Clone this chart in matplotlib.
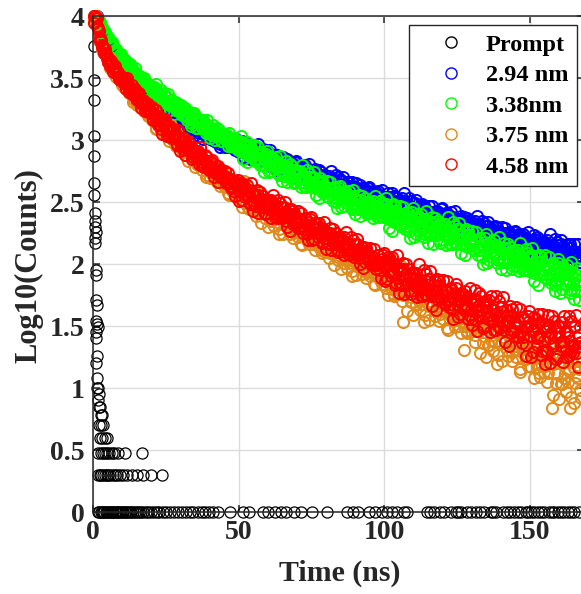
"""Fluorescence decay curves (log10 counts) for four particle sizes plus the prompt."""

import matplotlib

matplotlib.use("Agg")
import matplotlib.pyplot as plt
import numpy as np

# the histograms are read at two interleaved channel sets (ns)
time_a = np.arange(0.5, 168.0, 0.5)
time_b = time_a - 0.25

# log10(counts), in hundredths; "_a" at time_a, "_b" at time_b
decay_294nm_a = [
    399, 399, 398, 394, 392, 387, 385, 381, 381, 378,
    375, 376, 372, 371, 366, 366, 367, 361, 360, 360,
    360, 355, 351, 354, 352, 354, 347, 349, 345, 345,
    342, 344, 345, 340, 338, 340, 334, 336, 338, 333,
    335, 328, 332, 333, 328, 329, 330, 324, 327, 320,
    325, 320, 325, 322, 325, 318, 319, 315, 320, 318,
    315, 319, 315, 316, 310, 314, 317, 309, 310, 313,
    312, 308, 303, 308, 307, 310, 304, 307, 303, 304,
    301, 304, 306, 301, 299, 303, 297, 301, 302, 298,
    300, 294, 298, 300, 296, 297, 298, 293, 296, 290,
    296, 290, 296, 292, 298, 290, 292, 285, 294, 291,
    288, 293, 289, 290, 283, 288, 293, 284, 285, 290,
    289, 284, 278, 286, 284, 288, 279, 284, 279, 280,
    277, 282, 285, 278, 276, 282, 273, 279, 282, 275,
    279, 271, 277, 279, 274, 274, 277, 270, 275, 265,
    274, 268, 274, 270, 276, 268, 270, 263, 272, 269,
    266, 271, 266, 269, 261, 266, 272, 262, 263, 268,
    267, 262, 256, 264, 262, 266, 258, 263, 258, 259,
    256, 261, 264, 257, 255, 261, 252, 258, 261, 254,
    258, 250, 256, 258, 253, 253, 256, 249, 254, 244,
    253, 247, 254, 250, 257, 247, 250, 243, 253, 251,
    247, 253, 247, 250, 242, 247, 253, 243, 244, 249,
    249, 243, 236, 245, 243, 248, 239, 245, 239, 240,
    237, 242, 247, 239, 236, 243, 233, 239, 244, 236,
    240, 231, 238, 240, 234, 235, 238, 230, 236, 225,
    235, 229, 236, 232, 238, 229, 232, 225, 235, 233,
    229, 235, 229, 232, 224, 229, 235, 225, 226, 231,
    231, 225, 218, 228, 225, 231, 221, 227, 222, 223,
    220, 225, 229, 221, 219, 225, 216, 222, 226, 218,
    222, 213, 220, 223, 217, 218, 221, 213, 219, 208,
    218, 211, 220, 215, 222, 212, 215, 207, 218, 216,
    211, 219, 213, 215, 207, 213, 220, 208, 210, 215,
    216, 209, 202, 212, 210, 216, 206, 213, 207, 208,
    204, 210, 216, 207, 204,
]
decay_294nm_b = [
    397, 400, 400, 394, 393, 390, 388, 385, 381, 379,
    378, 375, 371, 374, 368, 368, 363, 363, 363, 358,
    358, 361, 354, 354, 355, 347, 351, 351, 346, 346,
    348, 341, 343, 340, 338, 341, 338, 332, 337, 338,
    329, 333, 334, 332, 327, 333, 328, 324, 332, 324,
    322, 325, 327, 317, 322, 319, 323, 321, 315, 318,
    319, 315, 311, 320, 312, 314, 310, 312, 315, 308,
    309, 314, 306, 307, 310, 301, 308, 309, 303, 305,
    307, 300, 303, 301, 298, 303, 301, 294, 301, 304,
    294, 298, 301, 299, 295, 300, 296, 292, 301, 294,
    291, 296, 299, 286, 294, 291, 296, 294, 286, 291,
    293, 289, 283, 297, 286, 290, 283, 287, 292, 283,
    284, 292, 282, 284, 288, 276, 285, 287, 280, 282,
    286, 277, 281, 278, 274, 282, 279, 270, 280, 283,
    270, 276, 280, 277, 272, 280, 274, 268, 281, 271,
    269, 274, 277, 264, 272, 269, 274, 272, 264, 269,
    271, 267, 261, 275, 264, 268, 261, 265, 270, 261,
    262, 270, 260, 262, 266, 254, 263, 266, 258, 261,
    265, 256, 260, 256, 253, 261, 258, 249, 259, 262,
    249, 255, 259, 256, 251, 259, 253, 247, 260, 250,
    248, 254, 257, 243, 252, 248, 255, 253, 244, 250,
    252, 247, 241, 257, 244, 249, 242, 246, 251, 241,
    243, 252, 241, 243, 247, 234, 245, 247, 239, 242,
    247, 236, 242, 238, 234, 243, 240, 229, 241, 245,
    230, 237, 241, 238, 233, 242, 234, 229, 243, 232,
    230, 236, 239, 225, 234, 230, 237, 235, 226, 232,
    234, 229, 223, 239, 226, 231, 224, 228, 233, 223,
    225, 234, 223, 225, 230, 217, 227, 230, 222, 225,
    230, 219, 224, 220, 216, 226, 222, 211, 223, 227,
    212, 220, 224, 221, 215, 224, 217, 212, 226, 215,
    212, 219, 223, 207, 217, 213, 220, 218, 209, 215,
    218, 212, 206, 224, 210, 215, 209, 211, 218, 207,
    209, 219, 207, 210, 215, 200, 213, 216, 207, 210,
    216, 204, 210, 206, 202,
]

decay_338nm_a = [
    400, 400, 395, 396, 393, 391, 387, 387, 383, 382,
    379, 379, 379, 375, 372, 372, 367, 368, 368, 364,
    365, 359, 362, 362, 358, 357, 358, 352, 354, 348,
    352, 348, 350, 347, 350, 344, 345, 340, 344, 342,
    339, 343, 338, 339, 333, 336, 340, 331, 332, 335,
    335, 329, 324, 330, 328, 331, 324, 328, 323, 323,
    320, 324, 326, 320, 318, 322, 314, 318, 321, 315,
    317, 310, 315, 316, 311, 312, 314, 307, 311, 302,
    309, 304, 309, 306, 310, 303, 304, 299, 305, 303,
    300, 304, 300, 301, 295, 298, 302, 294, 295, 298,
    299, 292, 285, 295, 292, 298, 287, 293, 287, 288,
    284, 290, 294, 285, 282, 289, 279, 285, 289, 281,
    285, 275, 282, 285, 278, 279, 282, 273, 280, 267,
    278, 271, 279, 274, 281, 270, 273, 265, 276, 273,
    268, 275, 269, 272, 263, 269, 276, 263, 265, 270,
    270, 263, 256, 266, 263, 269, 258, 264, 258, 259,
    255, 261, 266, 257, 254, 261, 250, 257, 261, 253,
    257, 247, 254, 258, 251, 252, 255, 246, 253, 240,
    251, 244, 252, 248, 255, 244, 248, 240, 250, 248,
    243, 251, 244, 247, 238, 245, 251, 239, 241, 247,
    248, 239, 229, 243, 240, 248, 234, 243, 235, 237,
    232, 240, 246, 235, 231, 241, 227, 236, 242, 231,
    237, 224, 234, 238, 230, 231, 236, 224, 233, 217,
    231, 223, 234, 227, 237, 223, 228, 217, 232, 228,
    223, 232, 224, 228, 216, 225, 234, 218, 221, 228,
    228, 219, 209, 223, 220, 228, 214, 223, 215, 217,
    212, 219, 226, 214, 211, 220, 206, 215, 221, 210,
    216, 203, 213, 217, 209, 210, 215, 203, 212, 196,
    210, 202, 213, 206, 216, 202, 207, 196, 211, 207,
    202, 211, 203, 207, 195, 203, 212, 196, 199, 206,
    207, 196, 186, 202, 198, 207, 191, 202, 192, 195,
    189, 198, 206, 192, 188, 199, 183, 193, 201, 188,
    195, 180, 191, 196, 186, 188, 194, 179, 191, 172,
    189, 178, 191, 184, 195,
]
decay_338nm_b = [
    398, 400, 398, 396, 395, 389, 390, 388, 384, 383,
    383, 377, 378, 375, 372, 373, 370, 365, 368, 369,
    361, 363, 364, 362, 358, 361, 356, 352, 358, 352,
    349, 352, 352, 344, 348, 345, 347, 345, 340, 342,
    343, 339, 334, 345, 335, 338, 332, 334, 338, 330,
    331, 337, 328, 329, 332, 321, 329, 330, 323, 325,
    328, 320, 323, 319, 316, 323, 319, 311, 319, 322,
    310, 315, 317, 315, 310, 316, 311, 306, 316, 308,
    305, 310, 312, 300, 307, 304, 308, 306, 299, 303,
    304, 300, 295, 306, 297, 300, 294, 297, 300, 292,
    293, 303, 290, 292, 297, 282, 294, 296, 287, 290,
    296, 283, 289, 284, 280, 290, 286, 274, 287, 291,
    274, 282, 286, 283, 277, 286, 278, 272, 287, 275,
    272, 279, 283, 266, 275, 272, 279, 276, 266, 272,
    275, 269, 262, 280, 266, 270, 262, 267, 273, 262,
    264, 274, 261, 263, 268, 253, 265, 267, 258, 261,
    267, 254, 260, 256, 251, 262, 257, 245, 259, 263,
    246, 254, 259, 255, 249, 259, 251, 244, 260, 248,
    245, 252, 256, 239, 249, 246, 253, 250, 241, 247,
    250, 244, 237, 255, 241, 246, 238, 243, 249, 238,
    240, 253, 236, 240, 247, 227, 243, 247, 235, 240,
    247, 231, 239, 233, 228, 242, 236, 221, 239, 245,
    222, 233, 240, 236, 227, 240, 230, 222, 243, 227,
    223, 233, 238, 216, 230, 225, 235, 231, 219, 227,
    231, 224, 215, 238, 220, 227, 216, 223, 231, 216,
    220, 233, 216, 220, 227, 207, 223, 227, 215, 220,
    227, 211, 219, 213, 207, 221, 215, 200, 218, 224,
    201, 212, 218, 214, 206, 219, 209, 201, 222, 206,
    202, 212, 217, 195, 209, 204, 214, 210, 198, 206,
    210, 203, 194, 217, 198, 205, 195, 201, 209, 194,
    197, 213, 193, 198, 206, 183, 202, 206, 192, 198,
    207, 188, 198, 191, 185, 201, 195, 178, 197, 204,
    177, 190, 198, 193, 183, 199, 187, 177, 202, 184,
    179, 191, 197, 171, 187,
]

decay_375nm_a = [
    398, 400, 393, 385, 379, 377, 371, 370, 369, 364,
    364, 358, 359, 359, 355, 354, 354, 349, 351, 344,
    347, 342, 346, 342, 344, 337, 338, 332, 337, 334,
    330, 333, 329, 329, 323, 326, 328, 321, 321, 322,
    323, 316, 310, 317, 314, 318, 308, 313, 307, 307,
    303, 307, 310, 303, 300, 305, 295, 300, 303, 295,
    298, 290, 294, 296, 290, 290, 292, 284, 289, 278,
    286, 280, 286, 281, 286, 278, 279, 272, 280, 277,
    273, 278, 273, 274, 266, 271, 275, 265, 266, 270,
    269, 263, 257, 264, 262, 266, 257, 261, 256, 256,
    251, 258, 263, 252, 249, 257, 244, 252, 257, 246,
    252, 239, 248, 252, 243, 244, 249, 237, 245, 230,
    243, 235, 244, 238, 247, 234, 238, 228, 241, 237,
    232, 240, 232, 236, 224, 232, 240, 225, 227, 234,
    233, 225, 216, 228, 225, 232, 219, 227, 219, 221,
    216, 223, 229, 218, 214, 223, 209, 218, 223, 212,
    218, 205, 214, 218, 209, 210, 215, 203, 211, 196,
    209, 201, 211, 205, 213, 201, 204, 194, 208, 204,
    199, 207, 200, 203, 192, 200, 208, 193, 195, 202,
    201, 193, 184, 196, 193, 200, 187, 195, 187, 189,
    181, 192, 201, 185, 180, 193, 174, 186, 194, 179,
    187, 170, 153, 189, 177, 179, 185, 169, 182, 159,
    179, 167, 182, 173, 186, 168, 174, 159, 179, 174,
    166, 179, 168, 173, 158, 169, 181, 160, 163, 173,
    173, 161, 148, 167, 162, 173, 154, 166, 155, 157,
    150, 161, 170, 154, 131, 163, 144, 156, 164, 149,
    158, 137, 153, 161, 146, 148, 157, 136, 153, 125,
    150, 135, 154, 143, 160, 137, 145, 127, 152, 146,
    136, 153, 139, 146, 126, 140, 156, 129, 134, 146,
    146, 131, 115, 139, 133, 146, 123, 138, 125, 128,
    117, 134, 147, 124, 117, 137, 109, 128, 140, 118,
    131, 105, 124, 133, 84, 119, 129, 104, 124, 91,
    120, 103, 125, 112, 132, 105, 114, 93, 122, 116,
    104, 124, 108, 116, 92,
]
decay_375nm_b = [
    397, 400, 393, 391, 381, 379, 373, 372, 371, 365,
    363, 366, 358, 358, 358, 351, 354, 355, 349, 350,
    351, 343, 345, 341, 338, 342, 339, 331, 337, 338,
    328, 331, 332, 330, 325, 329, 324, 319, 327, 319,
    316, 320, 322, 309, 315, 312, 316, 314, 305, 309,
    310, 306, 299, 312, 301, 304, 297, 300, 304, 294,
    295, 302, 291, 293, 296, 283, 292, 293, 286, 287,
    291, 281, 285, 280, 276, 284, 280, 270, 280, 283,
    269, 274, 277, 274, 269, 276, 269, 263, 275, 265,
    262, 267, 269, 256, 263, 259, 264, 262, 254, 258,
    261, 255, 246, 267, 249, 255, 245, 251, 258, 244,
    247, 259, 243, 246, 252, 233, 248, 251, 240, 244,
    250, 235, 242, 236, 231, 243, 238, 224, 240, 245,
    224, 234, 239, 235, 227, 239, 229, 221, 240, 226,
    222, 230, 235, 215, 227, 222, 231, 228, 216, 223,
    226, 220, 211, 232, 215, 221, 211, 217, 224, 210,
    213, 225, 209, 212, 218, 199, 214, 217, 206, 210,
    216, 201, 208, 203, 197, 210, 205, 190, 207, 212,
    191, 201, 206, 202, 195, 207, 197, 189, 208, 194,
    190, 198, 203, 183, 195, 190, 199, 196, 184, 191,
    196, 187, 175, 206, 181, 190, 176, 185, 196, 176,
    180, 198, 175, 180, 189, 162, 184, 189, 173, 179,
    189, 168, 178, 170, 163, 181, 174, 153, 178, 186,
    155, 170, 178, 173, 162, 179, 165, 154, 182, 162,
    156, 169, 176, 147, 164, 158, 171, 166, 149, 160,
    165, 156, 144, 175, 150, 160, 146, 154, 165, 146,
    149, 171, 143, 150, 161, 128, 155, 162, 142, 150,
    162, 135, 149, 139, 130, 154, 145, 119, 150, 160,
    122, 141, 151, 145, 131, 153, 136, 122, 157, 131,
    125, 141, 150, 113, 136, 128, 144, 139, 118, 131,
    140, 126, 108, 155, 119, 133, 112, 126, 142, 113,
    119, 146, 112, 120, 134, 94, 127, 135, 111, 120,
    135, 103, 120, 108, 97, 125, 115, 84, 121, 133,
    88, 110, 122, 115, 98,
]

decay_458nm_a = [
    400, 398, 392, 388, 380, 377, 375, 369, 369, 363,
    365, 360, 362, 358, 360, 354, 354, 349, 352, 350,
    346, 349, 345, 345, 339, 341, 344, 336, 336, 338,
    336, 331, 326, 331, 329, 331, 324, 326, 322, 322,
    317, 321, 324, 316, 313, 318, 309, 313, 316, 308,
    311, 303, 307, 309, 303, 303, 305, 297, 302, 291,
    299, 293, 299, 294, 299, 291, 292, 285, 293, 290,
    286, 291, 286, 287, 279, 284, 288, 278, 279, 283,
    282, 276, 270, 277, 275, 279, 270, 274, 269, 269,
    266, 270, 273, 265, 263, 268, 259, 264, 266, 259,
    263, 252, 260, 263, 256, 256, 260, 249, 257, 243,
    255, 247, 256, 250, 258, 246, 250, 240, 252, 249,
    244, 252, 245, 248, 238, 244, 252, 238, 240, 246,
    246, 238, 230, 241, 238, 244, 232, 240, 233, 234,
    229, 236, 241, 231, 228, 236, 224, 231, 236, 227,
    231, 220, 228, 232, 224, 225, 229, 218, 226, 212,
    224, 216, 225, 220, 228, 216, 219, 210, 222, 219,
    214, 222, 215, 218, 208, 214, 222, 208, 210, 216,
    216, 208, 200, 211, 208, 214, 202, 210, 203, 204,
    200, 206, 212, 202, 199, 207, 195, 202, 207, 198,
    203, 188, 199, 204, 193, 195, 200, 185, 196, 177,
    194, 183, 196, 188, 200, 184, 189, 176, 193, 189,
    182, 193, 184, 188, 174, 184, 195, 176, 179, 188,
    188, 177, 166, 183, 179, 188, 171, 182, 172, 175,
    169, 178, 186, 172, 168, 179, 163, 173, 181, 168,
    175, 160, 171, 176, 166, 167, 173, 159, 170, 151,
    168, 155, 172, 162, 177, 157, 163, 148, 170, 165,
    156, 171, 159, 164, 147, 160, 174, 150, 154, 165,
    165, 151, 137, 159, 154, 166, 144, 158, 146, 149,
    142, 154, 164, 146, 141, 156, 135, 149, 158, 142,
    152, 129, 147, 156, 140, 143, 153, 130, 149, 119,
    146, 130, 151, 140, 158, 134, 142, 123, 150, 144,
    134, 153, 138, 146, 125, 141, 158, 130, 135, 149,
    150, 133, 117, 143, 137,
]
decay_458nm_b = [
    394, 400, 398, 390, 382, 381, 375, 370, 373, 366,
    363, 364, 364, 355, 358, 355, 356, 354, 348, 350,
    350, 346, 341, 350, 341, 343, 337, 339, 341, 333,
    334, 338, 330, 330, 332, 323, 328, 329, 323, 323,
    327, 316, 320, 316, 312, 319, 315, 305, 314, 317,
    303, 308, 311, 308, 302, 309, 302, 296, 308, 298,
    295, 300, 302, 288, 295, 292, 297, 294, 286, 290,
    291, 287, 281, 294, 282, 285, 278, 282, 286, 276,
    277, 284, 274, 275, 279, 266, 275, 277, 269, 271,
    275, 265, 269, 265, 261, 268, 265, 255, 265, 268,
    251, 260, 265, 261, 254, 264, 255, 248, 265, 252,
    248, 256, 260, 241, 252, 248, 255, 252, 241, 248,
    251, 245, 237, 256, 241, 246, 237, 243, 249, 237,
    239, 250, 235, 238, 244, 227, 240, 243, 233, 237,
    243, 229, 235, 230, 225, 237, 232, 219, 234, 238,
    219, 228, 233, 229, 222, 233, 224, 217, 234, 221,
    217, 225, 229, 211, 222, 217, 225, 222, 211, 218,
    221, 215, 207, 226, 211, 216, 207, 212, 219, 206,
    209, 220, 205, 208, 214, 197, 210, 213, 203, 206,
    213, 199, 206, 200, 196, 207, 202, 189, 204, 209,
    186, 199, 206, 201, 190, 206, 193, 183, 207, 189,
    184, 195, 201, 176, 191, 185, 196, 192, 178, 187,
    192, 184, 173, 200, 179, 187, 174, 182, 192, 175,
    178, 194, 174, 178, 186, 163, 182, 186, 173, 178,
    187, 168, 178, 171, 165, 181, 174, 156, 177, 184,
    157, 170, 177, 173, 163, 178, 165, 156, 181, 163,
    156, 171, 179, 146, 166, 159, 174, 169, 150, 162,
    168, 158, 145, 174, 154, 163, 147, 157, 170, 148,
    153, 173, 147, 153, 163, 134, 158, 164, 146, 153,
    165, 141, 153, 144, 136, 157, 149, 126, 153, 162,
    125, 146, 157, 150, 135, 160, 141, 127, 160, 138,
    131, 149, 159, 120, 144, 136, 154, 149, 126, 141,
    149, 137, 121, 158, 131, 144, 126, 138, 154, 128,
    134, 159, 128, 136, 149,
]

# prompt (instrument response): peak channels, then the 3-, 2- and 1-count channels
prompt_peak_t = [0.5, 0.3, 0.2, 0.4, 0.3, 0.5, 0.4, 0.5, 0.6, 0.8,
                 0.7, 0.9, 0.8, 0.6, 1.1, 1.0, 0.9, 1.3, 1.1, 1.3,
                 1.6, 1.2, 1.0, 1.4, 1.2, 1.5, 1.3, 1.8, 2.2, 1.6,
                 2.4, 1.9, 2.7, 3.2, 2.1, 2.9, 3.6, 2.5, 3.1, 4.2, 4.9]
prompt_peak_v = [4.00, 3.76, 3.48, 3.32, 3.03, 2.87, 2.65, 2.56, 2.41, 2.35,
                 2.30, 2.26, 2.21, 2.17, 1.95, 1.91, 1.71, 1.67, 1.54, 1.52,
                 1.49, 1.45, 1.40, 1.26, 1.20, 1.08, 1.00, 1.00, 0.95, 0.90,
                 0.85, 0.85, 0.78, 0.78, 0.70, 0.70, 0.70, 0.60, 0.60, 0.60, 0.60]
prompt_three_t = [1.8, 2.6, 3.3, 4.0, 4.7, 5.5, 6.4, 7.3, 8.6, 10.9, 16.8]
prompt_two_t = [1.7, 2.3, 2.9, 3.5, 4.1, 4.7, 5.3, 6.0, 6.8, 7.5, 8.3, 9.4,
                10.2, 11.6, 13.4, 15.1, 17.2, 19.9, 23.7]
prompt_one_t = [1.6, 2.1, 2.6, 3.0, 3.4, 3.9, 4.3, 4.8, 5.2, 5.7, 6.1, 6.6,
                7.0, 7.5, 8.0, 8.4, 8.9, 9.4, 9.9, 10.4, 10.9, 11.5, 12.0,
                12.6, 13.1, 13.7, 14.4, 15.0, 15.7, 16.4, 17.2, 18.1, 19.0,
                19.8, 20.9, 21.8, 22.6, 23.9, 25.0, 26.5, 27.8, 29.3, 30.4,
                31.8, 33.3, 34.2, 35.9, 37.4, 38.6, 39.8, 41.2, 42.8, 47.0,
                51.6, 53.4, 58.2, 60.1, 62.5, 64.6, 66.4, 68.9, 71.3, 75.1,
                80.2, 87.1, 89.4, 91.1, 94.6, 96.9, 99.2, 100.9, 102.6, 104.4,
                106.7, 107.9, 114.7, 115.8, 117.0, 119.0, 120.5, 122.8, 124.5,
                125.3, 126.2, 128.5, 129.9, 131.4, 133.0, 134.2, 136.5, 137.4,
                138.3, 140.6, 142.0, 143.3, 144.6, 145.8, 146.9, 148.6, 149.5,
                150.3, 151.5, 152.6, 153.7, 154.9, 156.6, 157.5, 158.4, 159.5,
                160.6, 161.8, 162.9, 164.0, 165.2, 166.9]

labels = ["Prompt", "2.94 nm", "3.38nm", "3.75 nm", "4.58 nm"]
colors = ["black", "#0000ff", "#00ff00", "#e08a1c", "#ff0000"]

plt.rcParams["font.family"] = ["Liberation Serif", "DejaVu Serif"]
plt.rcParams["font.weight"] = "bold"


def decay_points(readings_a, readings_b):
    xs = np.concatenate([time_a, time_b])
    ys = np.concatenate([readings_a, readings_b]) / 100
    return xs, ys


fig = plt.figure(figsize=(5.81, 5.94), dpi=100)
ax = fig.add_axes([93 / 581, 82 / 594, 491 / 581, 496 / 594])

prompt_t = np.concatenate([prompt_peak_t, prompt_three_t, prompt_two_t, prompt_one_t])
prompt_v = np.concatenate([
    prompt_peak_v,
    np.full(len(prompt_three_t), np.log10(3)),
    np.full(len(prompt_two_t), np.log10(2)),
    np.zeros(len(prompt_one_t)),
])

series = [
    (prompt_t, prompt_v),
    decay_points(decay_294nm_a, decay_294nm_b),
    decay_points(decay_338nm_a, decay_338nm_b),
    decay_points(decay_375nm_a, decay_375nm_b),
    decay_points(decay_458nm_a, decay_458nm_b),
]
for (xs, ys), label, color in zip(series, labels, colors):
    # the prompt is sparse, so its rings stay thin; the dense decays overlap into bands
    width = 0.9 if label == "Prompt" else 1.4
    ax.plot(xs, ys, marker="o", linestyle="none", markerfacecolor="none",
            markeredgecolor=color, markersize=8.0, markeredgewidth=width,
            clip_on=False, label=label)

ax.set_xlim(0, 491 / 2.913)
ax.set_ylim(0, 4)
ax.set_xticks([0, 50, 100, 150])
ax.set_yticks(np.arange(0, 4.01, 0.5))
ax.set_yticklabels(["0", "0.5", "1", "1.5", "2", "2.5", "3", "3.5", "4"])
ax.grid(True, color="#dcdcdc", linewidth=1.0)
ax.set_axisbelow(True)
for spine in ax.spines.values():
    spine.set_color("#262626")
    spine.set_linewidth(1.1)
ax.tick_params(direction="in", length=5, width=1.1, top=True, right=True,
               colors="#262626", labelsize=20, pad=6)

ax.set_xlabel("Time (ns)", fontsize=21.5, fontweight="bold", color="#262626")
ax.xaxis.set_label_coords(0.503, -0.0956)
ax.set_ylabel("Log10(Counts)", fontsize=22, fontweight="bold", color="#262626")
ax.yaxis.set_label_coords(-0.1018, 0.496)

legend = ax.legend(loc="upper right", bbox_to_anchor=(577 / 581, 1 - 25 / 594),
                   bbox_transform=fig.transFigure, borderaxespad=0, fancybox=False,
                   framealpha=1, edgecolor="#262626", numpoints=1,
                   prop={"size": 17.5, "weight": "bold"}, handlelength=2.7,
                   handletextpad=0.1, borderpad=0.35, labelspacing=0.35)
legend.get_frame().set_linewidth(1.0)
for handle in legend.get_lines():
    handle.set_markeredgewidth(1.0)

fig.savefig("out.png", dpi=100)
